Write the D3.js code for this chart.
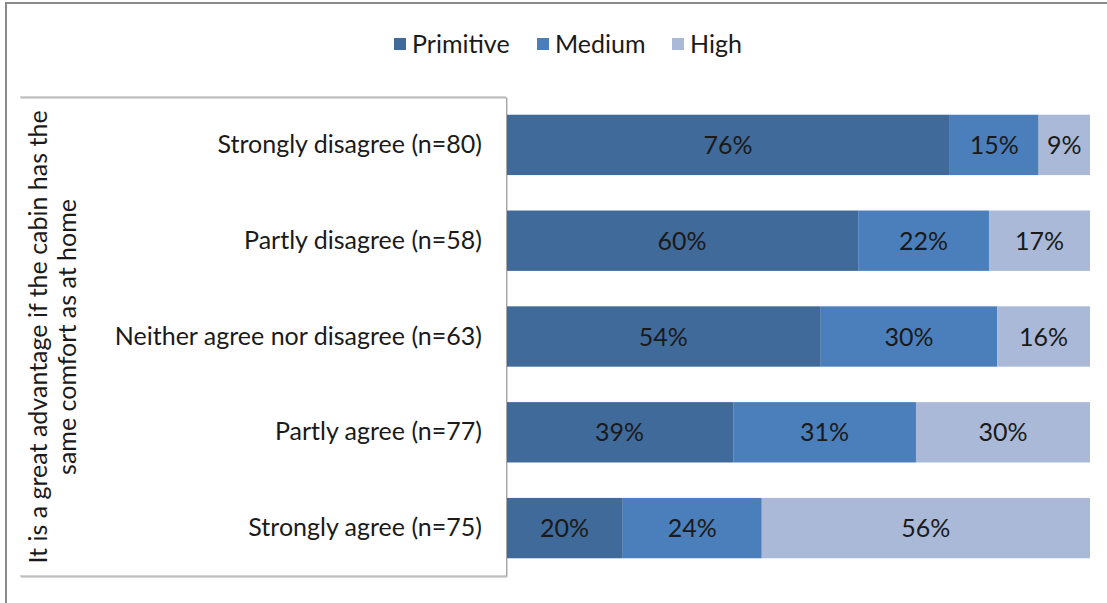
<!DOCTYPE html>
<html><head><meta charset="utf-8">
<script src="https://cdn.jsdelivr.net/npm/d3@7"></script>
<style>body{margin:0;background:#fff}svg{display:block}text{font-family:Lato,"Open Sans",sans-serif}</style>
</head><body><svg id="c" width="1107" height="603"></svg>
<script>
const categories = ["Strongly disagree (n=80)","Partly disagree (n=58)","Neither agree nor disagree (n=63)","Partly agree (n=77)","Strongly agree (n=75)"];
const seriesNames = ["Primitive","Medium","High"];
const primitive = [76.0, 60.3, 53.9, 38.9, 20.0];
const medium = [15.2, 22.4, 30.2, 31.3, 23.8];
const high = [8.8, 17.3, 15.9, 29.8, 56.2];
const colors = ["#3F6A9A","#4B7FBC","#A9B9D7"];
const axisTitle = ["It is a great advantage if the cabin has the","same comfort as at home"];

const svg = d3.select("#c");
// fit font size so the first category label is ~264px wide (as in reference)
const probe = svg.append("text").attr("font-size",20).text(categories[0]);
const fs = +(20*264/probe.node().getComputedTextLength()).toFixed(1);
probe.remove();

svg.append("rect").attr("x",6).attr("y",3).attr("width",1120).attr("height",620)
  .attr("fill","none").attr("stroke","#8a8a8a").attr("stroke-width",2);

const x = d3.scaleLinear().domain([0,100]).range([506,1090]);
const y = d3.scaleBand().domain(categories).range([97,576]).paddingInner(0.37).paddingOuter(0.185);

const box = svg.append("g");
box.append("line").attr("x1",21).attr("x2",507).attr("y1",98).attr("y2",98).attr("stroke","#d8d8d8").attr("stroke-width",2);
box.append("line").attr("x1",21).attr("x2",507).attr("y1",577).attr("y2",577).attr("stroke","#d8d8d8").attr("stroke-width",2);
box.append("line").attr("x1",507).attr("x2",507).attr("y1",98).attr("y2",577).attr("stroke","#d8d8d8").attr("stroke-width",2);
box.append("line").attr("x1",20).attr("x2",506).attr("y1",97).attr("y2",97).attr("stroke","#a6a6a6");
box.append("line").attr("x1",20).attr("x2",506).attr("y1",576).attr("y2",576).attr("stroke","#a6a6a6");

const stackData = categories.map((c,i)=>({cat:c, Primitive:primitive[i], Medium:medium[i], High:high[i]}));
const stack = d3.stack().keys(seriesNames)(stackData);

const g = svg.append("g");
stack.forEach((s,si)=>{
  g.selectAll(null).data(s).enter().append("rect")
    .attr("x",d=>x(d[0])).attr("y",d=>y(d.data.cat))
    .attr("width",d=>x(d[1])-x(d[0])).attr("height",y.bandwidth())
    .attr("fill",colors[si]);
  g.selectAll(null).data(s).enter().append("text")
    .attr("x",d=>(x(d[0])+x(d[1]))/2).attr("y",d=>y(d.data.cat)+y.bandwidth()/2)
    .attr("dy","0.36em").attr("text-anchor","middle").attr("font-size",fs).attr("fill","#1a1a1a")
    .text(d=>Math.round(d[1]-d[0])+"%");
});

const ax = svg.append("g").attr("transform","translate(506,0)").call(d3.axisLeft(y).tickSize(0).tickPadding(24));
ax.select(".domain").attr("stroke","#a6a6a6");
ax.selectAll("text").attr("font-size",fs).attr("fill","#1a1a1a").attr("font-family",'Lato,"Open Sans",sans-serif');

const t = svg.append("text").attr("transform","translate(52,337) rotate(-90)").attr("text-anchor","middle")
  .attr("font-size",fs).attr("fill","#1a1a1a");
axisTitle.forEach((l,i)=>t.append("tspan").attr("x",0).attr("dy",i?"1.15em":"-0.2em").text(l));

const lg = svg.append("g");
const legX = [394,537,672];
seriesNames.forEach((n,i)=>{
  lg.append("rect").attr("x",legX[i]).attr("y",38).attr("width",12).attr("height",12).attr("fill",colors[i]);
  lg.append("text").attr("x",legX[i]+18).attr("y",44).attr("dy","0.36em").attr("font-size",fs).attr("fill","#1a1a1a").text(n);
});
</script></body></html>
